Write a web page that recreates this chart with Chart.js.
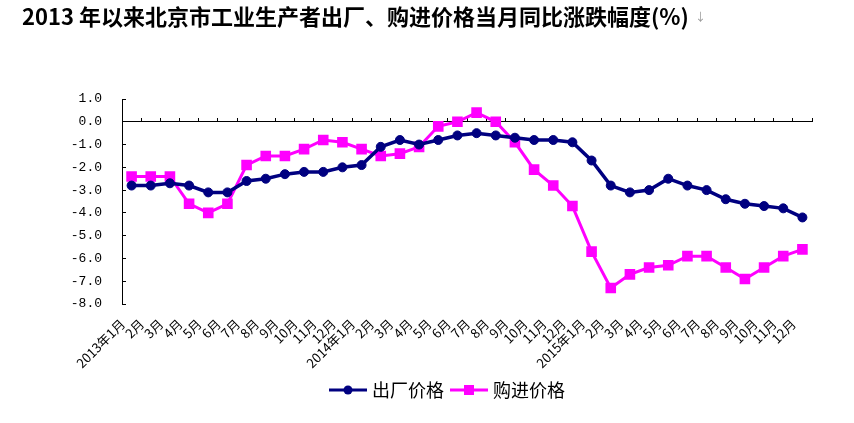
<!DOCTYPE html>
<html>
<head>
<meta charset="utf-8">
<script src="https://cdn.jsdelivr.net/npm/chart.js@4/dist/chart.umd.min.js"></script>
<style>
html,body{margin:0;padding:0;background:#fff;}
#wrap{position:relative;width:854px;height:423px;}
#arrow{position:absolute;left:695px;top:8px;font:11px 'Noto Sans CJK SC';color:#999;}
</style>
</head>
<body>
<div id="wrap"><canvas id="c" width="854" height="423"></canvas><span id="arrow">↓</span></div>
<script>
const categories = [
  "2013年1月","2月","3月","4月","5月","6月","7月","8月","9月","10月","11月","12月",
  "2014年1月","2月","3月","4月","5月","6月","7月","8月","9月","10月","11月","12月",
  "2015年1月","2月","3月","4月","5月","6月","7月","8月","9月","10月","11月","12月"
];
const seriesNames = ["出厂价格", "购进价格"];
const factoryPrice = [
  -2.8,-2.8,-2.7,-2.8,-3.1,-3.1,-2.6,-2.5,-2.3,-2.2,-2.2,-2.0,
  -1.9,-1.1,-0.8,-1.0,-0.8,-0.6,-0.5,-0.6,-0.7,-0.8,-0.8,-0.9,
  -1.7,-2.8,-3.1,-3.0,-2.5,-2.8,-3.0,-3.4,-3.6,-3.7,-3.8,-4.2
];
const purchasePrice = [
  -2.4,-2.4,-2.4,-3.6,-4.0,-3.6,-1.9,-1.5,-1.5,-1.2,-0.8,-0.9,
  -1.2,-1.5,-1.4,-1.1,-0.2,0.0,0.4,0.0,-0.9,-2.1,-2.8,-3.7,
  -5.7,-7.3,-6.7,-6.4,-6.3,-5.9,-5.9,-6.4,-6.9,-6.4,-5.9,-5.6
];
const yAxisMin = -8, yAxisMax = 1, yAxisStep = 1;
const titleText = "2013 年以来北京市工业生产者出厂、购进价格当月同比涨跌幅度(%)";

const NAVY = "#000080", MAGENTA = "#FF00FF";
const CJK = "'Noto Sans CJK SC', sans-serif";

function legendIcon(color, shape) {
  const c = document.createElement("canvas");
  c.width = 38; c.height = 12;
  const g = c.getContext("2d");
  g.strokeStyle = color; g.lineWidth = 3;
  g.beginPath(); g.moveTo(0, 6); g.lineTo(38, 6); g.stroke();
  g.fillStyle = color;
  if (shape === "circle") { g.beginPath(); g.arc(19, 6, 4.5, 0, Math.PI * 2); g.fill(); }
  else { g.fillRect(14, 1, 10, 10); }
  return c;
}
const icons = [legendIcon(NAVY, "circle"), legendIcon(MAGENTA, "rect")];

new Chart(document.getElementById("c"), {
  type: "line",
  data: {
    labels: categories,
    datasets: [
      { label: seriesNames[0], data: factoryPrice, borderColor: NAVY, backgroundColor: NAVY,
        borderWidth: 3.5, tension: 0, pointStyle: "circle", pointRadius: 4.5, pointBorderWidth: 1,
        pointBackgroundColor: NAVY, pointBorderColor: NAVY, xAxisID: "x", yAxisID: "y" },
      { label: seriesNames[1], data: purchasePrice, borderColor: MAGENTA, backgroundColor: MAGENTA,
        borderWidth: 3, tension: 0, pointStyle: "rect", pointRadius: 7.5, pointBorderWidth: 0,
        pointBackgroundColor: MAGENTA, pointBorderColor: MAGENTA, xAxisID: "x", yAxisID: "y" }
    ]
  },
  options: {
    responsive: false, animation: false, devicePixelRatio: 1,
    layout: { padding: { left: 22, right: -22, top: 0, bottom: 14 } },
    plugins: {
      title: { display: true, text: titleText, align: "start", color: "#000",
        font: { family: CJK, size: 22, weight: "bold" }, padding: { top: 3, bottom: 69.6 } },
      legend: { position: "bottom",
        labels: { usePointStyle: true, pointStyleWidth: 30, boxHeight: 12, padding: 10, color: "#000",
          font: { family: CJK, size: 18 },
          generateLabels: (chart) => chart.data.datasets.map((ds, i) => ({
            text: ds.label, pointStyle: icons[i], fillStyle: ds.borderColor, strokeStyle: ds.borderColor,
            lineWidth: 0, hidden: false, datasetIndex: i, fontColor: "#000" })) } },
      tooltip: { enabled: false }
    },
    scales: {
      x: { type: "category", position: "bottom", offset: true,
        grid: { display: false, drawTicks: false }, border: { display: false },
        ticks: { autoSkip: false, minRotation: 45, maxRotation: 45, labelOffset: -9, padding: 12,
          color: "#000", font: { family: CJK, size: 13 } },
        afterFit: (s) => { s.height = 67; } },
      x0: { type: "category", position: { y: 0 }, offset: true,
        grid: { offset: true, drawOnChartArea: false, drawTicks: true, tickLength: -4, color: "#000", lineWidth: 1 },
        border: { display: true, color: "#000", width: 1 },
        ticks: { display: false },
        afterFit: (s) => { s.height = 0; } },
      y: { type: "linear", position: "left", min: yAxisMin, max: yAxisMax,
        ticks: { stepSize: yAxisStep, callback: (v) => v.toFixed(1), padding: 24, color: "#000",
          font: { family: "'Liberation Mono', monospace", size: 13 } },
        grid: { drawOnChartArea: false, drawTicks: true, tickLength: -4, color: "#000" },
        border: { display: true, color: "#000", width: 1 },
        afterFit: (s) => { s.width = 100; } },
      yR: { type: "linear", position: "right", min: yAxisMin, max: yAxisMax,
        grid: { display: false, drawTicks: false }, border: { display: false }, ticks: { display: false },
        afterFit: (s) => { s.width = 64; } }
    }
  }
});
</script>
</body>
</html>
